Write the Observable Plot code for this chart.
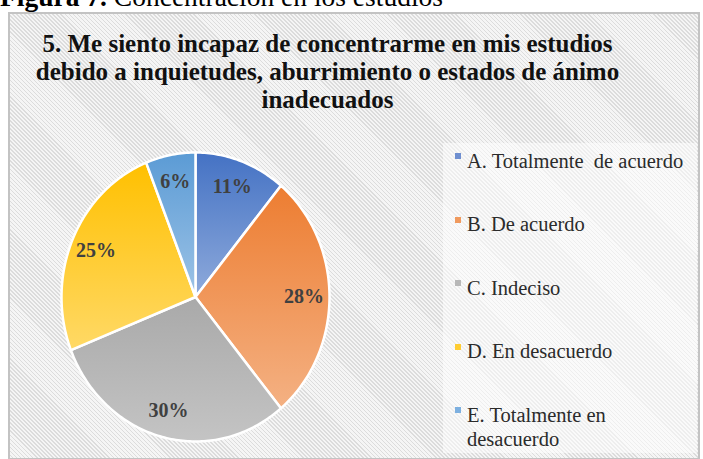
<!DOCTYPE html>
<html>
<head>
<meta charset="utf-8">
<script src="https://cdn.jsdelivr.net/npm/d3@7"></script>
<script src="https://cdn.jsdelivr.net/npm/@observablehq/plot@0.6"></script>
<style>
  html, body { margin: 0; padding: 0; background: #ffffff; overflow: hidden; }
  #page { position: relative; width: 703px; height: 459px; overflow: hidden; font-family: "Liberation Serif", "LiberationSerif", Tinos, "Times New Roman", Times, "DejaVu Serif", "Noto Serif", serif; }
  #caption { position: absolute; left: 0; top: -17px; font-size: 27.5px; line-height: 1; color: #000; white-space: nowrap; }
  #box { position: absolute; left: 8px; top: 12px; width: 692px; height: 448px; border: 2px solid #c3c3c3; box-sizing: border-box;
         background: repeating-linear-gradient(45deg, #f5f5f5 0px, #f5f5f5 1.6px, #dcdcdc 1.6px, #dcdcdc 2.7px, #f5f5f5 2.7px, #f5f5f5 2.85px); }
  #legendbg { position: absolute; left: 443px; top: 143px; width: 254px; height: 310px; background: rgba(255,255,255,0.5); }
  #chart { position: absolute; left: 0; top: 0; }
  #title { position: absolute; left: 0; width: 655px; top: 30px; text-align: center; font-weight: bold; font-size: 25px; line-height: 28px; color: #111; }
  .lg { position: absolute; font-size: 20.5px; line-height: 24px; color: #2b2b2b; white-space: pre; }
  .sw { position: absolute; width: 6px; height: 6px; }
</style>
</head>
<body>
<div id="page">
  <div id="caption"><b>Figura 7.</b> Concentración en los estudios</div>
  <div id="box"></div>
  <div id="legendbg"></div>
  <div id="chart"></div>
  <div id="title">5. Me siento incapaz de concentrarme en mis estudios<br>debido a inquietudes, aburrimiento o estados de ánimo<br>inadecuados</div>
  <div id="legend"></div>
</div>
<script>
// ---- data ----
const categories = ["A. Totalmente  de acuerdo", "B. De acuerdo", "C. Indeciso", "D. En desacuerdo", "E. Totalmente en\ndesacuerdo"];
const percents = [11, 28, 30, 25, 6];
const labels = ["11%", "28%", "30%", "25%", "6%"];
const colorsTop = ["#4472c4", "#ed7d31", "#a9a9a9", "#ffc000", "#5b9bd5"];
const colorsBottom = ["#8eaadb", "#f4b183", "#c4c4c4", "#ffd966", "#9dc3e6"];
const legendColors = ["#6f8fd0", "#f09a5e", "#b8b8b8", "#ffcd33", "#7db0e0"];

const serif = '"Liberation Serif", "LiberationSerif", Tinos, "Times New Roman", Times, "DejaVu Serif", "Noto Serif", serif';

// ---- pie geometry from data ----
const pie = d3.pie().sort(null).value(d => d)(percents);
function slicePoints(p, i) {
  const pts = [{x: 0, y: 0, i}];
  const a0 = p.startAngle, a1 = p.endAngle;
  const n = Math.max(2, Math.ceil((a1 - a0) / (Math.PI / 180)));
  for (let k = 0; k <= n; k++) {
    const a = a0 + (a1 - a0) * k / n;
    pts.push({x: Math.sin(a), y: Math.cos(a), i});
  }
  pts.push({x: 0, y: 0, i});
  return pts;
}
const labelR = 0.81;
const labelData = pie.map((p, i) => {
  const a = (p.startAngle + p.endAngle) / 2;
  return {x: labelR * Math.sin(a), y: labelR * Math.cos(a), label: labels[i]};
});

const sliceMarks = pie.map((p, i) => Plot.line(slicePoints(p, i), {
  x: "x", y: "y", fill: `url(#grad${i})`, stroke: "white", strokeWidth: 2.5, strokeLinejoin: "round"
}));

const svg = Plot.plot({
  width: 703, height: 459,
  marginTop: 0, marginRight: 0, marginBottom: 0, marginLeft: 0,
  x: {domain: [-1, 1], range: [61, 329], axis: null},
  y: {domain: [-1, 1], range: [441, 152], axis: null},
  style: {background: "transparent", overflow: "visible", fontFamily: serif},
  marks: [
    ...sliceMarks,
    Plot.text(labelData, {x: "x", y: "y", text: "label", fontWeight: "bold", fontSize: 20,
      fontFamily: serif, fill: "#404040"})
  ]
});
const defs = d3.select(svg).insert("defs", ":first-child");
colorsTop.forEach((c, i) => {
  const g = defs.append("linearGradient").attr("id", `grad${i}`)
    .attr("x1", 0).attr("y1", 0).attr("x2", 0).attr("y2", 1);
  g.append("stop").attr("offset", "0%").attr("stop-color", c);
  g.append("stop").attr("offset", "100%").attr("stop-color", colorsBottom[i]);
});
document.getElementById("chart").appendChild(svg);

// ---- legend ----
const legend = document.getElementById("legend");
const baselines = [166, 229.5, 293, 356.5, 420];
categories.forEach((c, i) => {
  const sw = document.createElement("div");
  sw.className = "sw";
  sw.style.left = "455px";
  sw.style.top = (baselines[i] - 13) + "px";
  sw.style.background = legendColors[i];
  legend.appendChild(sw);
  const t = document.createElement("div");
  t.className = "lg";
  t.style.left = "467px";
  t.style.top = (baselines[i] - 17.4) + "px";
  t.textContent = c;
  legend.appendChild(t);
});
</script>
</body>
</html>
